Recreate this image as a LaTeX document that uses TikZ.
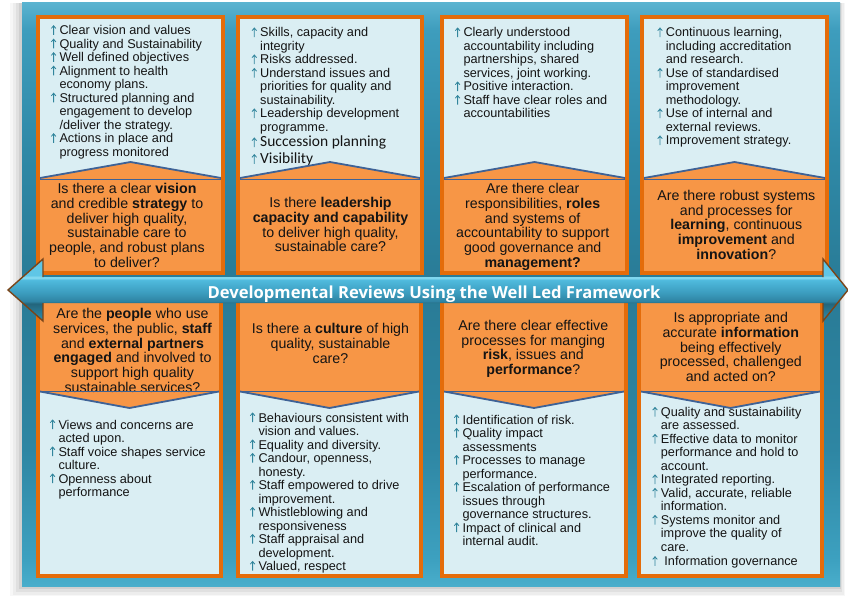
\documentclass[tikz,border=0pt]{standalone}
\usepackage{fontspec}
\setmainfont{Liberation Sans}
\newfontfamily\calfont{Carlito}
\newfontfamily\headfont{Open Sans}

% palette
\definecolor{boxline}{HTML}{E46C0A}
\definecolor{boxorange}{HTML}{F79646}
\definecolor{boxpale}{HTML}{DAEEF3}
\definecolor{chev}{HTML}{3E6296}
\definecolor{tick}{HTML}{31859C}
\definecolor{headline}{HTML}{7A4519}
\definecolor{txt}{HTML}{141414}
\definecolor{p0}{HTML}{5AB3D0}
\definecolor{p0b}{HTML}{3E9DBD}
\definecolor{p1}{HTML}{2F89A7}
\definecolor{p2}{HTML}{297B96}
\definecolor{p3}{HTML}{2E86A3}
\definecolor{p4}{HTML}{3DA1C0}
\definecolor{p5}{HTML}{4AAECB}
\definecolor{a0}{HTML}{5FC6E6}
\definecolor{a1}{HTML}{8ADCF2}
\definecolor{a2}{HTML}{4FBADD}
\definecolor{a3}{HTML}{3C9DBF}
\definecolor{a4}{HTML}{2F84A3}
\definecolor{a5}{HTML}{23657C}
\definecolor{a6}{HTML}{2E8FB0}

\pgfdeclareverticalshading{panelshade}{100bp}{color(0bp)=(p5); color(25bp)=(p5);
  color(27.2bp)=(p4); color(36.7bp)=(p3); color(50.4bp)=(p2); color(62.4bp)=(p1);
  color(72.7bp)=(p0b); color(75bp)=(p0); color(100bp)=(p0)}
\pgfdeclareverticalshading{arrowshade}{100bp}{color(0bp)=(a6); color(25bp)=(a6);
  color(39bp)=(a5); color(41bp)=(a4); color(48bp)=(a3); color(58bp)=(a2);
  color(60bp)=(a1); color(62bp)=(a0); color(75bp)=(a0); color(100bp)=(a0)}

% list helpers: upward bullet mark, continuation indent, first-line struts
\newcommand\upmark{\tikz[x=1pt,y=1pt,baseline=0pt]
  \draw[tick, line width=0.8pt, line cap=butt]
    (2.3,-0.2) -- (2.3,8.8) (0,6.3) -- (2.3,9) -- (4.6,6.3);}
\newcommand\B{\makebox[9.5pt][l]{\hspace{0.9pt}\upmark}}
\newcommand\C{\hspace*{9.5pt}}
\newcommand\fs{\rule{0pt}{11pt}}
\newcommand\qs{\rule{0pt}{12pt}}

\begin{document}
\begin{tikzpicture}[x=1pt,y=-1pt,
  lst/.style={anchor=north west, inner sep=0, align=left,
    font=\fontsize{12.7}{13.5}\selectfont, text=txt},
  qst/.style={anchor=north, inner sep=0, align=center,
    font=\fontsize{14.2}{14.8}\selectfont, text=txt},
  chevline/.style={draw=chev, line width=1.8pt, line join=miter},
  frame/.style={draw=boxline, line width=4pt},
  headedge/.style={draw=headline, line width=1.4pt, line join=miter},
  title/.style={inner sep=0, anchor=base, text=white,
    font=\headfont\bfseries\fontsize{16.6}{16.6}\selectfont}]
\useasboundingbox (0,0) rectangle (848,596);
\fill[white] (0,0) rectangle (848,596);

% soft shadow round the panel
\foreach \d/\o in {12/0.03, 9/0.04, 6/0.05, 3/0.07}
  \fill[black, opacity=\o] (22-\d,3) rectangle (840+\d*0.4,586+\d);
\path[shading=panelshade] (22,3) rectangle (840,586);

% pale box bodies
\foreach \a/\b in {36/225, 236/424, 440/629, 640/829}
  \fill[boxpale] (\a,15) rectangle (\b,275);
\foreach \a/\b in {36/223, 236/423, 440/628, 637/824}
  \fill[boxpale] (\a,299) rectangle (\b,578);

% ---- bullet lists, upper row
\begin{scope}
\clip (40,19) rectangle (221,271);
\node[lst] (t1list) at (49.8,23.5) {\fs\B Clear vision and values\\
\B Quality and Sustainability\\
\B Well defined objectives\\
\B Alignment to health\\
\C economy plans.\\
\B Structured planning and\\
\C engagement to develop\\
\C /deliver the strategy.\\
\B Actions in place and\\
\C progress monitored};
\end{scope}
\begin{scope}
\clip (240,19) rectangle (420,271);
\node[lst] (t2list) at (250.5,25.8) {\fs\B Skills, capacity and\\
\C integrity\\
\B Risks addressed.\\
\B Understand issues and\\
\C priorities for quality and\\
\C sustainability.\\
\B Leadership development\\
\C programme.\\[2pt]
\B{\calfont\fontsize{15.5}{16}\selectfont Succession planning}\\[3.1pt]
\B{\calfont\fontsize{15.5}{16}\selectfont Visibility}};
\end{scope}
\begin{scope}
\clip (444,19) rectangle (625,271);
\node[lst] (t3list) at (453.8,25.8) {\fs\B Clearly understood\\
\C accountability including\\
\C partnerships, shared\\
\C services, joint working.\\
\B Positive interaction.\\
\B Staff have clear roles and\\
\C accountabilities};
\end{scope}
\begin{scope}
\clip (644,19) rectangle (825,271);
\node[lst] (t4list) at (656.2,25.8) {\fs\B Continuous learning,\\
\C including accreditation\\
\C and research.\\
\B Use of standardised\\
\C improvement\\
\C methodology.\\
\B Use of internal and\\
\C external reviews.\\
\B Improvement strategy.};
\end{scope}

% ---- bullet lists, lower row
\begin{scope}
\clip (40,303) rectangle (219,574);
\node[lst] (b1list) at (48.8,417.8) {\fs\B Views and concerns are\\
\C acted upon.\\
\B Staff voice shapes service\\
\C culture.\\
\B Openness about\\
\C performance};
\end{scope}
\begin{scope}
\clip (240,303) rectangle (419,574);
\node[lst] (b2list) at (248.8,410.8) {\fs\B Behaviours consistent with\\
\C vision and values.\\
\B Equality and diversity.\\
\B Candour, openness,\\
\C honesty.\\
\B Staff empowered to drive\\
\C improvement.\\
\B Whistleblowing and\\
\C responsiveness\\
\B Staff appraisal and\\
\C development.\\
\B Valued, respect};
\end{scope}
\begin{scope}
\clip (444,303) rectangle (624,574);
\node[lst] (b3list) at (452.8,412.8) {\fs\B Identification of risk.\\
\B Quality impact\\
\C assessments\\
\B Processes to manage\\
\C performance.\\
\B Escalation of performance\\
\C issues through\\
\C governance structures.\\
\B Impact of clinical and\\
\C internal audit.};
\end{scope}
\begin{scope}
\clip (641,303) rectangle (820,574);
\node[lst] (b4list) at (651.2,405.2) {\fs\B Quality and sustainability\\
\C are assessed.\\
\B Effective data to monitor\\
\C performance and hold to\\
\C account.\\
\B Integrated reporting.\\
\B Valid, accurate, reliable\\
\C information.\\
\B Systems monitor and\\
\C improve the quality of\\
\C care.\\[0.8pt]
\B\hspace{3.5pt}Information governance};
\end{scope}

% orange question areas with their pointed edges
\foreach \a/\b in {36/225, 236/424, 440/629, 640/829}
  \fill[boxorange] (\a+4,178) -- ({(\a+\b)/2},162) -- (\b-4,178)
    -- (\b-4,273) -- (\a+4,273) -- cycle;
\foreach \a/\b in {36/223, 236/423, 440/628, 637/824}
  \fill[boxorange] (\a+4,300) -- (\b-4,300) -- (\b-4,392)
    -- ({(\a+\b)/2},408) -- (\a+4,392) -- cycle;

% ---- questions
\node[qst] (t1q) at (127,181.3) {\qs Is there a clear \textbf{vision}\\
and credible \textbf{strategy} to\\ deliver high quality,\\
sustainable care to\\ people, and robust plans\\ to deliver?};
\node[qst] (t2q) at (330.5,195.3) {\qs Is there \textbf{leadership}\\
\textbf{capacity and capability}\\ to deliver high quality,\\ sustainable care?};
\node[qst] (t3q) at (532.7,181.3) {\qs Are there clear\\
responsibilities, \textbf{roles}\\ and systems of\\
accountability to support\\ good governance and\\ \textbf{management?}};
\node[qst] (t4q) at (736.3,188) {\qs Are there robust systems\\
and processes for\\ \textbf{learning}, continuous\\
\textbf{improvement} and\\ \textbf{innovation}?};
\node[qst] (b1q) at (132.5,306.3) {\qs Are the \textbf{people} who use\\
services, the public, \textbf{staff}\\ and \textbf{external partners}\\
\textbf{engaged} and involved to\\ support high quality\\ sustainable services?};
\node[qst] (b2q) at (330.5,321.3) {\qs Is there a \textbf{culture} of high\\
quality, sustainable\\ care?};
\node[qst] (b3q) at (533.3,318) {\qs Are there clear effective\\
processes for manging\\ \textbf{risk}, issues and\\ \textbf{performance}?};
\node[qst] (b4q) at (730.8,310.3) {\qs Is appropriate and\\
accurate \textbf{information}\\ being effectively\\
processed, challenged\\ and acted on?};

% chevron lines
\foreach \a/\b in {36/225, 236/424, 440/629, 640/829} {
  \draw[chevline] (\a+4,178) -- ({(\a+\b)/2},162) -- (\b-4,178);
  \draw[chevline] (\a+4,179.5) -- (\b-4,179.5);
}
\foreach \a/\b in {36/223, 236/423, 440/628, 637/824} {
  \draw[chevline] (\a+4,391.5) -- (\b-4,391.5);
  \draw[chevline] (\a+4,391.5) -- ({(\a+\b)/2},408) -- (\b-4,391.5);
}

% box frames
\foreach \a/\b in {36/225, 236/424, 440/629, 640/829}
  \draw[frame] (\a+2,17) rectangle (\b-2,273);
\foreach \a/\b in {36/223, 236/423, 440/628, 637/824}
  \draw[frame] (\a+2,301) rectangle (\b-2,576);

% double-headed banner arrow
\path[shading=arrowshade] (43,277) -- (43,259) -- (8,290) -- (43,321) -- (43,303)
  -- (823,303) -- (823,321) -- (848,290) -- (823,259) -- (823,277) -- cycle;
\draw[headedge] (43,277) -- (43,259) -- (8,290) -- (43,321) -- (43,303);
\draw[headedge] (823,277) -- (823,259) -- (848,290) -- (823,321) -- (823,303);
\begin{scope}
\clip (43,277) rectangle (823,301.5);
\node[title] (banner) at (434,298.5) {Developmental Reviews Using the Well Led Framework};
\end{scope}
\end{tikzpicture}
\end{document}
